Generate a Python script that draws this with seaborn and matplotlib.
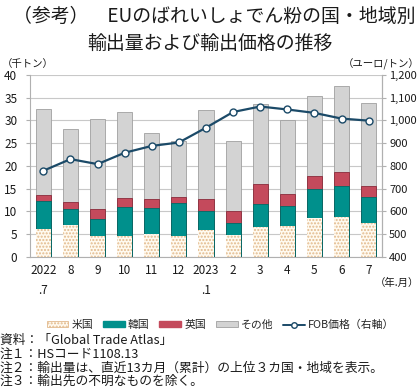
import numpy as np
import pandas as pd
import matplotlib
matplotlib.use('Agg')
import matplotlib.pyplot as plt
import matplotlib.patches as mpatches
import matplotlib.lines as mlines
import seaborn as sns

months = ['2022\n.7', '8', '9', '10', '11', '12', '2023\n.1', '2', '3', '4', '5', '6', '7']
us = [6.2, 7.1, 4.6, 4.7, 5.1, 4.7, 6.0, 4.8, 6.7, 6.9, 8.6, 8.7, 7.5]
korea = [6.1, 3.4, 3.8, 6.3, 5.7, 7.1, 4.0, 2.7, 4.9, 4.4, 6.3, 7.0, 5.7]
uk = [1.4, 1.6, 2.1, 2.0, 1.9, 1.3, 2.7, 2.7, 4.5, 2.5, 2.9, 3.0, 2.4]
other = [18.85, 16.0, 19.9, 18.9, 14.5, 12.4, 19.6, 15.2, 17.5, 16.3, 17.5, 18.9, 18.2]
fob = [779, 830, 808, 858, 888, 903, 968, 1037, 1061, 1048, 1033, 1008, 999]

df = pd.DataFrame({'month': months, 'us': us, 'korea': korea, 'uk': uk, 'other': other, 'fob': fob})
# cumulative levels for stacking
df['lv1'] = df['us']
df['lv2'] = df['lv1'] + df['korea']
df['lv3'] = df['lv2'] + df['uk']
df['lv4'] = df['lv3'] + df['other']

sns.set_style('white')
plt.rcParams['font.family'] = ['Noto Sans CJK JP', 'DejaVu Sans']
plt.rcParams['hatch.linewidth'] = 1.0

c_us_face = '#fffaf0'
c_us_hatch = '#e2b98c'
c_kr = '#00908c'
c_uk = '#c44a5c'
c_ot = '#d3d3d3'
c_line = '#1b4a68'
txt = '#1a1a1a'

fig = plt.figure(figsize=(4.2, 3.9), dpi=100)
ax = fig.add_axes([0.071, 0.341, 0.839, 0.467])

w = 0.56
sns.barplot(data=df, x='month', y='lv4', color=c_ot, edgecolor='#a0a0a0', linewidth=0.6, width=w, saturation=1, ax=ax, zorder=2)
sns.barplot(data=df, x='month', y='lv3', color=c_uk, edgecolor='#8a2a3a', linewidth=0.6, width=w, saturation=1, ax=ax, zorder=3)
sns.barplot(data=df, x='month', y='lv2', color=c_kr, edgecolor='#006a66', linewidth=0.6, width=w, saturation=1, ax=ax, zorder=4)
sns.barplot(data=df, x='month', y='lv1', color=c_us_face, edgecolor=c_us_hatch, linewidth=0.0, width=w, saturation=1, hatch='.....', ax=ax, zorder=5)
for p in ax.patches[-13:]:
    p.set_facecolor(c_us_face)
    p.set_edgecolor(c_us_hatch)

ax.set_ylim(0, 40)
ax.set_xlim(-0.5, 12.5)
ax.set_yticks(range(0, 41, 5))
ax.yaxis.grid(True, color='#c8c8c8', linewidth=0.8, zorder=0)
ax.set_axisbelow(True)
ax.set_xlabel('')
ax.set_ylabel('')
for s in ax.spines.values():
    s.set_color('#b0b0b0')
    s.set_linewidth(0.8)
ax.spines['top'].set_visible(False)
ax.tick_params(axis='y', labelsize=8.5, colors=txt, length=3, color='#b0b0b0', pad=6)
ax.tick_params(axis='x', labelsize=8.5, colors=txt, length=0, pad=5)
ax.set_xticks(np.arange(-0.5, 12.6, 1), minor=True)
ax.tick_params(axis='x', which='minor', length=3, color='#b0b0b0')
for lab in ax.get_xticklabels():
    lab.set_linespacing(1.7)
    lab.set_verticalalignment('top')

ax2 = ax.twinx()
sns.lineplot(x=np.arange(len(fob)), y=df['fob'], ax=ax2, color=c_line, linewidth=1.6,
             marker='o', markersize=5, markerfacecolor='white', markeredgecolor=c_line,
             markeredgewidth=1.0, zorder=6)
ax2.set_ylim(400, 1200)
ax2.set_yticks(range(400, 1201, 100))
ax2.set_yticklabels([f'{v:,}' for v in range(400, 1201, 100)])
ax2.set_ylabel('')
ax2.tick_params(axis='y', labelsize=8, colors=txt, length=3, color='#b0b0b0', pad=2)
for s in ax2.spines.values():
    s.set_visible(False)
ax2.spines['right'].set_visible(True)
ax2.spines['right'].set_color('#b0b0b0')
ax2.spines['right'].set_linewidth(0.8)
ax2.set_xlim(-0.5, 12.5)

fig.text(0.51, 0.985, '（参考）　EUのばれいしょでん粉の国・地域別', ha='center', va='top', fontsize=13.6, color=txt)
fig.text(0.5, 0.915, '輸出量および輸出価格の推移', ha='center', va='top', fontsize=13.6, color=txt)
fig.text(0.005, 0.835, '（千トン）', ha='left', va='center', fontsize=7.5, color=txt)
fig.text(0.998, 0.835, '（ユーロ/トン）', ha='right', va='center', fontsize=7.5, color=txt)
fig.text(0.998, 0.275, '（年.月）', ha='right', va='center', fontsize=7.5, color=txt)

handles = [
    mpatches.Patch(facecolor=c_us_face, edgecolor=c_us_hatch, hatch='.....', linewidth=0.6, label='米国'),
    mpatches.Patch(facecolor=c_kr, edgecolor=c_kr, label='韓国'),
    mpatches.Patch(facecolor=c_uk, edgecolor=c_uk, label='英国'),
    mpatches.Patch(facecolor=c_ot, edgecolor='#a0a0a0', linewidth=0.6, label='その他'),
    mlines.Line2D([], [], color=c_line, linewidth=1.4, marker='o', markersize=4,
                  markerfacecolor='white', markeredgecolor=c_line, label='FOB価格（右軸）'),
]
fig.legend(handles=handles, loc='center', bbox_to_anchor=(0.525, 0.167), ncol=5, frameon=False,
           fontsize=7.8, handlelength=2.0, handleheight=0.5, handletextpad=0.3, columnspacing=0.9)

notes = ['資料：「Global Trade Atlas」',
         '注１：HSコード1108.13',
         '注２：輸出量は、直近13カ月（累計）の上位３カ国・地域を表示。',
         '注３：輸出先の不明なものを除く。']
for i, n in enumerate(notes):
    fig.text(0.0, 0.128 - i * 0.0355, n, ha='left', va='center', fontsize=9.2, color=txt)

fig.savefig('out.png', dpi=100)
